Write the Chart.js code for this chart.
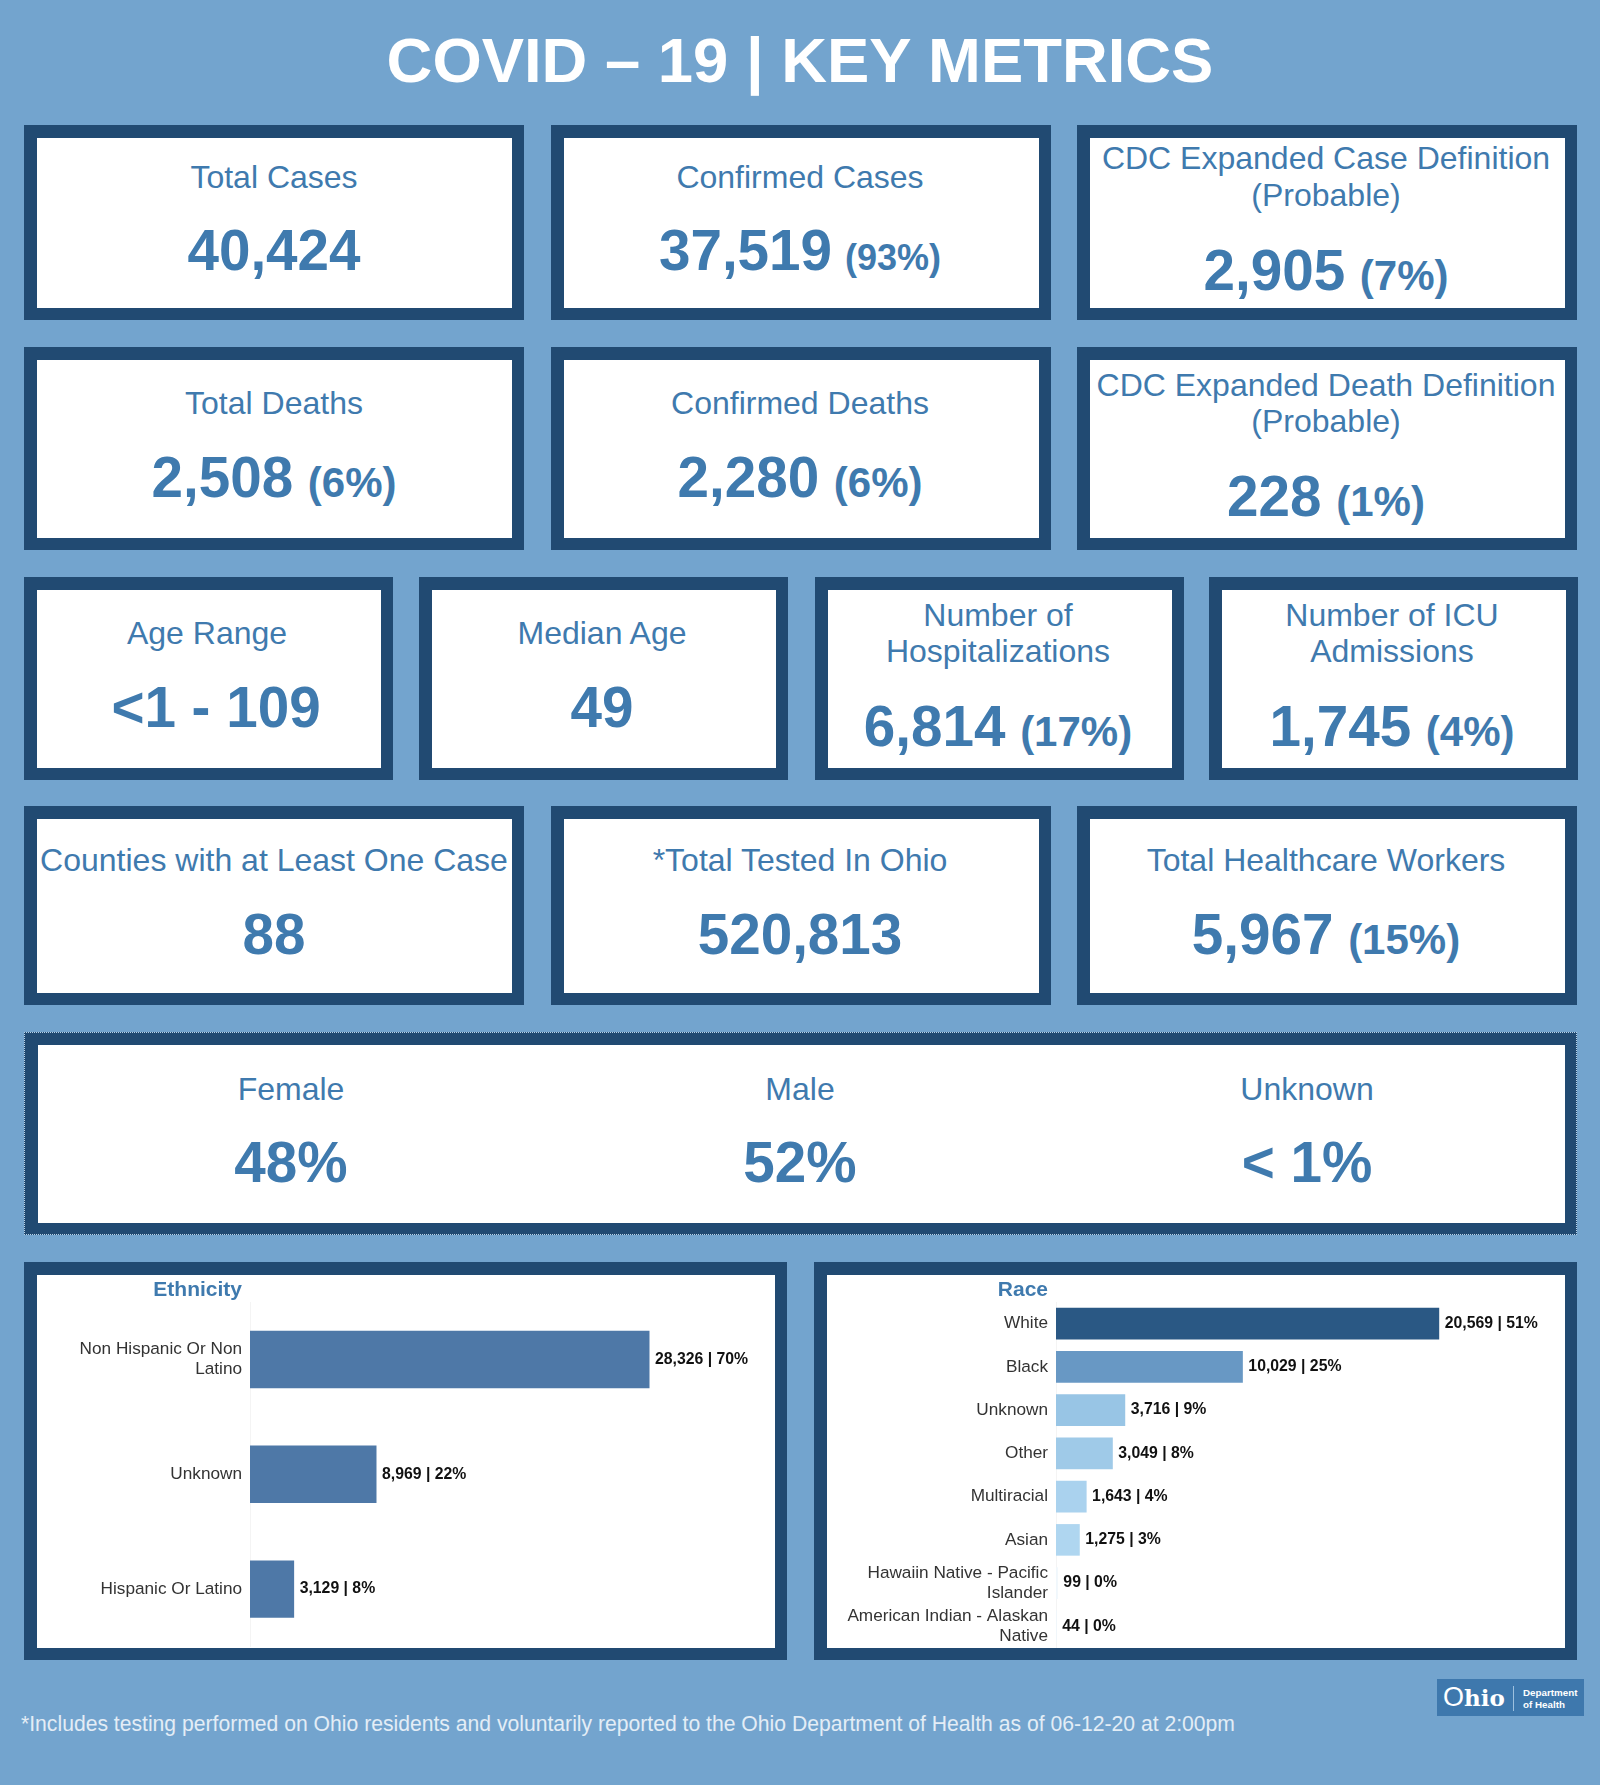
<!DOCTYPE html>
<html lang="en">

<head>
    <meta charset="UTF-8" />
    <title>COVID-19 Key Metrics</title>
    <script src="https://cdn.jsdelivr.net/npm/chart.js"></script>
    <style>
        html, body {
            margin: 0;
            padding: 0;
        }

        body {
            position: relative;
            width: 1600px;
            height: 1785px;
            overflow: hidden;
            background: #73a4ce;
            font-family: 'Liberation Sans', Arial, sans-serif;
        }

        .abs {
            position: absolute;
            white-space: nowrap;
        }

        #title {
            left: 0;
            width: 1600px;
            top: 22px;
            line-height: 76px;
            font-size: 63.4px;
            font-weight: bold;
            color: #fff;
            text-align: center;
        }

        .card {
            position: absolute;
            box-sizing: border-box;
            background: #fff;
            border: solid #214a72;
            border-width: 13px 12px 12px 13px;
        }

        .card.dotted {
            border-left-width: 14px;
            outline: 1px dotted #b9d3e8;
            outline-offset: -1px;
        }

        .label, .value {
            position: absolute;
            white-space: nowrap;
            text-align: center;
            transform: translateX(-50%);
            color: #3f7aae;
        }

        .label {
            font-size: 32px;
            line-height: 36.5px;
        }

        .value {
            font-size: 56.6px;
            line-height: 66px;
            font-weight: bold;
        }

        .value small {
            font-size: 42px;
            margin-left: 3px;
        }

        .value small.tiny {
            font-size: 36px;
        }

        .chart-title {
            position: absolute;
            top: 1276px;
            line-height: 26px;
            font-size: 21px;
            font-weight: bold;
            color: #3f7aae;
            text-align: right;
        }

        canvas {
            position: absolute;
            background: #fff;
        }

        #footnote {
            left: 21px;
            top: 1711px;
            line-height: 26px;
            font-size: 21.15px;
            color: #e3edf6;
        }

        #logo {
            position: absolute;
            left: 1437px;
            top: 1679px;
            width: 147px;
            height: 37px;
            background: #3e78ad;
            color: #fff;
        }

        #logo .name {
            position: absolute;
            left: 6px;
            top: 0;
            font-family: 'DejaVu Serif', serif;
            font-weight: bold;
            font-size: 23px;
            line-height: 36px;
        }

        #logo .name span {
            font-family: 'Liberation Sans', sans-serif;
            font-weight: normal;
            font-size: 27px;
        }

        #logo .rule {
            position: absolute;
            left: 76px;
            top: 7px;
            width: 1px;
            height: 25px;
            background: #9dc0de;
        }

        #logo .dept {
            position: absolute;
            left: 86px;
            top: 8px;
            font-size: 9.8px;
            line-height: 12px;
            font-weight: bold;
            white-space: nowrap;
        }
    </style>
</head>

<body>
    <div id="title" class="abs">COVID – 19 | KEY METRICS</div>

    <div id="cards"></div>

    <div id="footnote" class="abs">*Includes testing performed on Ohio residents and voluntarily reported to the Ohio Department of Health as of 06-12-20 at 2:00pm</div>

    <div id="logo">
        <div class="name"><span>O</span>hio</div>
        <div class="rule"></div>
        <div class="dept">Department<br>of Health</div>
    </div>

    <canvas id="ethnicityChart" style="left:37px;top:1275px;width:738px;height:373px"></canvas>
    <canvas id="raceChart" style="left:827px;top:1275px;width:738px;height:373px"></canvas>
    <div class="chart-title" style="left:37px;width:205px">Ethnicity</div>
    <div class="chart-title" style="left:827px;width:221px">Race</div>

    <script>
        const ethnicityLabels = [['Non Hispanic Or Non', 'Latino'], 'Unknown', 'Hispanic Or Latino'];
        const ethnicityCounts = [28326, 8969, 3129];
        const ethnicityPercents = [70, 22, 8];

        const raceLabels = ['White', 'Black', 'Unknown', 'Other', 'Multiracial', 'Asian',
            ['Hawaiin Native - Pacific', 'Islander'], ['American Indian - Alaskan', 'Native']];
        const raceCounts = [20569, 10029, 3716, 3049, 1643, 1275, 99, 44];
        const racePercents = [51, 25, 9, 8, 4, 3, 0, 0];
        const raceColors = ['#2a5884', '#6898c4', '#98c5e5', '#9fcae8', '#aad2ee', '#afd6f0', '#f0f7fc', '#f0f7fc'];

        // left, top, width, height of each box row
        const cardRows = [
            { top: 125, height: 195, lefts: [24, 551, 1077], width: 500 },
            { top: 347, height: 203, lefts: [24, 551, 1077], width: 500 },
            { top: 577, height: 203, lefts: [24, 419, 815, 1209], width: 369 },
            { top: 806, height: 199, lefts: [24, 551, 1077], width: 500 }
        ];

        // label lines, big number, percent, centre x, label centre y, value centre y
        const metrics = [
            [['Total Cases'], '40,424', '', 274, 177.5, 251],
            [['Confirmed Cases'], '37,519', '(93%)', 800, 177.5, 251],
            [['CDC Expanded Case Definition', '(Probable)'], '2,905', '(7%)', 1326, 176.5, 270.5],
            [['Total Deaths'], '2,508', '(6%)', 274, 403, 478],
            [['Confirmed Deaths'], '2,280', '(6%)', 800, 403, 478],
            [['CDC Expanded Death Definition', '(Probable)'], '228', '(1%)', 1326, 403, 497],
            [['Age Range'], '<1 - 109', '', 207, 633, 708],
            [['Median Age'], '49', '', 602, 633, 708],
            [['Number of', 'Hospitalizations'], '6,814', '(17%)', 998, 633, 727],
            [['Number of ICU', 'Admissions'], '1,745', '(4%)', 1392, 633, 727],
            [['Counties with at Least One Case'], '88', '', 274, 860, 935],
            [['*Total Tested In Ohio'], '520,813', '', 800, 860, 935],
            [['Total Healthcare Workers'], '5,967', '(15%)', 1326, 860, 935],
            [['Female'], '48%', '', 291, 1089, 1163],
            [['Male'], '52%', '', 800, 1089, 1163],
            [['Unknown'], '< 1%', '', 1307, 1089, 1163]
        ];
        const valueNudge = { '<1 - 109': 9 };

        const cardsEl = document.getElementById('cards');

        function addBox(left, top, width, height, extra) {
            const box = document.createElement('div');
            box.className = 'card' + (extra ? ' ' + extra : '');
            box.style.cssText = `left:${left}px;top:${top}px;width:${width}px;height:${height}px`;
            cardsEl.appendChild(box);
        }

        cardRows.forEach(row => row.lefts.forEach(left => addBox(left, row.top, row.width, row.height)));
        addBox(24, 1032, 1553, 203, 'dotted');
        addBox(24, 1262, 763, 398);
        addBox(814, 1262, 763, 398);

        metrics.forEach(([lines, value, percent, cx, labelY, valueY]) => {
            const label = document.createElement('div');
            label.className = 'label';
            label.innerHTML = lines.join('<br>');
            const firstLine = lines.length > 1 ? labelY - 18.25 : labelY;
            label.style.cssText = `left:${cx}px;top:${firstLine - 18.25}px`;
            cardsEl.appendChild(label);

            const val = document.createElement('div');
            val.className = 'value';
            val.textContent = value;
            if (percent) {
                const small = document.createElement('small');
                small.textContent = ' ' + percent;
                if (percent === '(93%)') small.className = 'tiny';
                val.appendChild(small);
            }
            val.style.cssText = `left:${cx + (valueNudge[value] || 0)}px;top:${valueY - 33}px`;
            cardsEl.appendChild(val);
        });

        // draws "count | percent" next to each bar
        const valueLabels = {
            id: 'valueLabels',
            afterDatasetsDraw(chart, args, opts) {
                const ctx = chart.ctx;
                const meta = chart.getDatasetMeta(0);
                ctx.save();
                ctx.font = 'bold 15.8px "Liberation Sans"';
                ctx.fillStyle = '#111';
                ctx.textAlign = 'left';
                ctx.textBaseline = 'middle';
                meta.data.forEach((bar, i) => {
                    const text = chart.data.datasets[0].data[i].toLocaleString('en-US') + ' | ' + opts.percents[i] + '%';
                    ctx.fillText(text, bar.x + 5.5, bar.y);
                });
                ctx.restore();
            }
        };

        function drawBars(id, labels, counts, percents, colors, barPct, axisWidth, maxValue, padBottom) {
            new Chart(document.getElementById(id).getContext('2d'), {
                type: 'bar',
                plugins: [valueLabels],
                data: {
                    labels: labels,
                    datasets: [{
                        data: counts,
                        backgroundColor: colors,
                        categoryPercentage: 1,
                        barPercentage: barPct
                    }]
                },
                options: {
                    indexAxis: 'y',
                    responsive: false,
                    animation: false,
                    layout: { padding: { top: 27, bottom: padBottom } },
                    scales: {
                        x: { display: false, min: 0, max: maxValue },
                        y: {
                            afterFit: scale => {
                                scale.width = axisWidth;
                                // tall first/last labels must not shrink the plot
                                scale.paddingTop = 0;
                                scale.paddingBottom = 0;
                            },
                            grid: { display: false, drawTicks: false },
                            border: { color: '#f4f4f4' },
                            ticks: {
                                autoSkip: false,
                                padding: 8,
                                color: '#333',
                                font: { family: 'Liberation Sans', size: 17.2, lineHeight: 1.18 }
                            }
                        }
                    },
                    plugins: {
                        legend: { display: false },
                        tooltip: { enabled: false },
                        valueLabels: { percents: percents }
                    }
                }
            });
        }

        for (const id of ['ethnicityChart', 'raceChart']) {
            const c = document.getElementById(id);
            c.width = 738;
            c.height = 373;
        }

        drawBars('ethnicityChart', ethnicityLabels, ethnicityCounts, ethnicityPercents, '#4e78a7', 0.5, 213, 37224, 1.5);
        drawBars('raceChart', raceLabels, raceCounts, racePercents, raceColors, 0.73, 229, 27321, 0);
    </script>

</body>

</html>
